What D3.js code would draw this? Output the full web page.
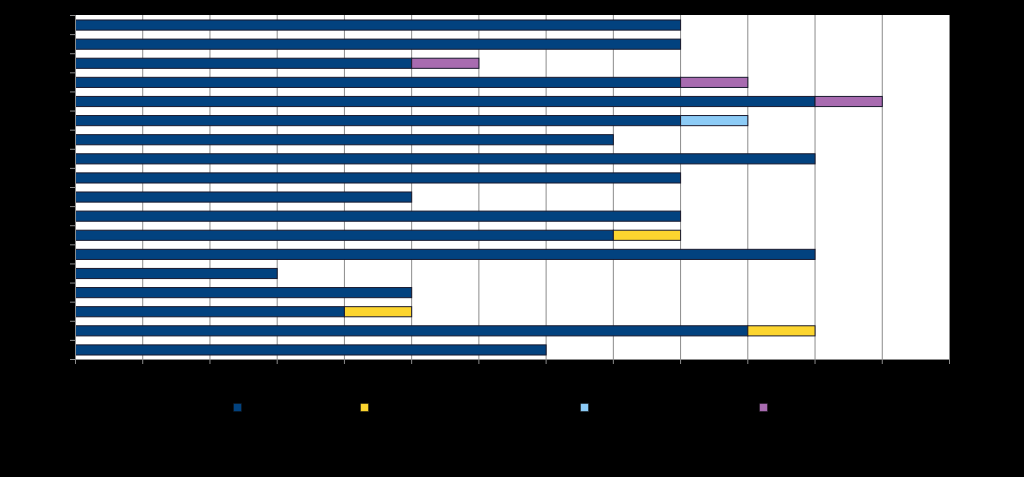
<!DOCTYPE html>
<html><head><meta charset="utf-8">
<script src="https://cdn.jsdelivr.net/npm/d3@7"></script>
<style>html,body{margin:0;padding:0;background:#000;}svg{display:block;}</style>
</head><body>
<svg id="c" width="1024" height="477"></svg>
<script>
const categories = ["1","2","3","4","5","6","7","8","9","10","11","12","13","14","15","16","17","18"];
const seriesNames = ["Series 1","Series 2","Series 3","Series 4"];
const seriesColors = ["#02427f","#fcd52f","#8ccbf6","#a86bb0"];
const s1 = [9,9,5,9,11,9,8,11,9,5,9,8,11,3,5,4,10,7];
const s2 = [0,0,0,0,0,0,0,0,0,0,0,1,0,0,0,1,1,0];
const s3 = [0,0,0,0,0,1,0,0,0,0,0,0,0,0,0,0,0,0];
const s4 = [0,0,1,1,1,0,0,0,0,0,0,0,0,0,0,0,0,0];
const xTicks = d3.range(0,14);

const svg = d3.select("#c");
const m = {l:75, r:949, t:15, b:359};
const x = d3.scaleLinear().domain([0,13]).range([m.l,m.r]);
const y = d3.scaleBand().domain(categories).range([m.t,m.b]).paddingInner(0.47).paddingOuter(0.235);

svg.append("rect").attr("x",m.l).attr("y",m.t).attr("width",m.r-m.l).attr("height",m.b-m.t).attr("fill","#fff");
svg.append("g").selectAll("line").data(xTicks.slice(1)).join("line")
  .attr("x1",d=>x(d)+0.5).attr("x2",d=>x(d)+0.5).attr("y1",m.t).attr("y2",m.b)
  .attr("stroke","#8c8c8c").attr("stroke-width",1);

const data = categories.map((c,i)=>({c, vals:[s1[i],s2[i],s3[i],s4[i]]}));
const stack = d3.stack().keys([0,1,2,3]).value((d,k)=>d.vals[k]);
const layers = stack(data);
svg.append("g").selectAll("g").data(layers).join("g").attr("fill",(d,i)=>seriesColors[i])
  .selectAll("rect").data(d=>d.filter(p=>p[1]>p[0])).join("rect")
  .attr("x",p=>x(p[0])+0.5).attr("width",p=>x(p[1])-x(p[0]))
  .attr("y",p=>y(p.data.c)+0.5).attr("height",y.bandwidth())
  .attr("stroke","#1a1a2e").attr("stroke-width",1);

// axes
const xAxis = svg.append("g").attr("transform",`translate(0,${m.b})`)
  .call(d3.axisBottom(x).tickValues(xTicks).tickSize(5).tickPadding(4));
xAxis.select(".domain").attr("stroke","#8c8c8c");
xAxis.selectAll(".tick line").attr("stroke","#8c8c8c");
xAxis.selectAll("text").attr("fill","#000").attr("font-family","Arial, Liberation Sans").attr("font-size",11);

const step = y.step();
const yb = d3.range(0, categories.length+1).map(i=>m.t + i*(m.b-m.t)/categories.length);
const yAxis = svg.append("g");
yAxis.append("line").attr("x1",m.l+0.5).attr("x2",m.l+0.5).attr("y1",m.t).attr("y2",m.b).attr("stroke","#8c8c8c");
yAxis.selectAll("line.t").data(yb).join("line").attr("class","t")
  .attr("x1",m.l-5).attr("x2",m.l).attr("y1",d=>d+0.5).attr("y2",d=>d+0.5).attr("stroke","#8c8c8c");
yAxis.selectAll("text").data(categories).join("text")
  .attr("x",m.l-8).attr("y",d=>y(d)+y.bandwidth()/2).attr("dy","0.35em").attr("text-anchor","end")
  .attr("fill","#000").attr("font-family","Arial, Liberation Sans").attr("font-size",11).text(d=>d);

// legend
const lx = [233,360,580,759];
const lg = svg.append("g");
seriesNames.forEach((n,i)=>{
  lg.append("rect").attr("x",lx[i]+0.5).attr("y",403.5).attr("width",8).attr("height",8)
    .attr("fill",seriesColors[i]).attr("stroke","#111").attr("stroke-width",0.5);
  lg.append("text").attr("x",lx[i]+13).attr("y",411).attr("fill","#000")
    .attr("font-family","Arial, Liberation Sans").attr("font-size",11).text(n);
});
</script>
</body></html>
